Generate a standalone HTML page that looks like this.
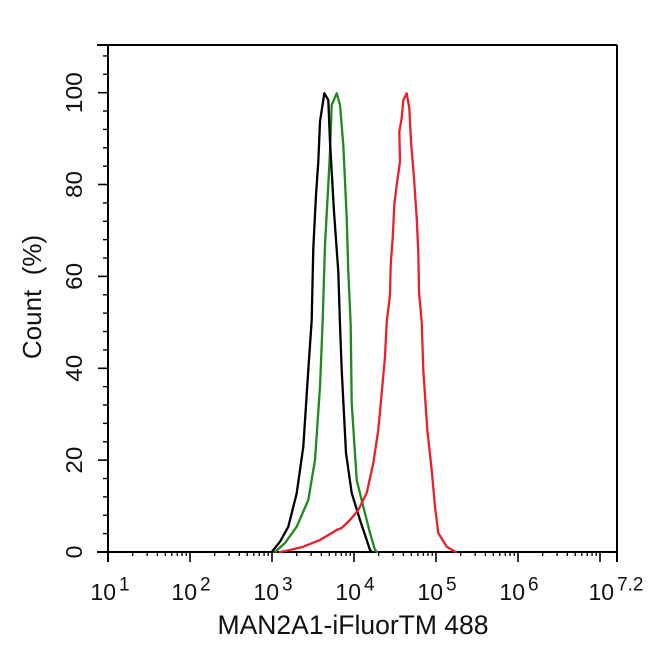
<!DOCTYPE html>
<html><head><meta charset="utf-8"><style>
html,body{margin:0;padding:0;background:#fff;}
svg{display:block;}
text{font-family:"Liberation Sans",Arial,sans-serif;fill:#111;}
</style></head><body>
<svg width="650" height="658" viewBox="0 0 650 658" xmlns="http://www.w3.org/2000/svg">
<rect width="650" height="658" fill="#fff"/>
<!-- frame -->
<g stroke="#000" stroke-width="2" fill="none">
<line x1="97" y1="45" x2="617" y2="45"/>
<line x1="97" y1="552" x2="617" y2="552"/>
<line x1="108" y1="45" x2="108" y2="562"/>
<line x1="617" y1="45" x2="617" y2="562"/>
</g>
<!-- y ticks -->
<g stroke="#000" stroke-width="1.6">
<line x1="98" y1="552" x2="108" y2="552"/>
<line x1="98" y1="460.1" x2="108" y2="460.1"/>
<line x1="98" y1="368.3" x2="108" y2="368.3"/>
<line x1="98" y1="276.4" x2="108" y2="276.4"/>
<line x1="98" y1="184.5" x2="108" y2="184.5"/>
<line x1="98" y1="92.7" x2="108" y2="92.7"/>
</g>
<g stroke="#000" stroke-width="1.4" id="ymin"></g>
<g stroke="#000" stroke-width="1.6" id="xt"></g>
<!-- y labels -->
<g font-size="23" text-anchor="middle">
<text transform="translate(82,552) rotate(-90)">0</text>
<text transform="translate(82,460.1) rotate(-90)" textLength="27" lengthAdjust="spacingAndGlyphs">20</text>
<text transform="translate(82,368.3) rotate(-90)" textLength="27" lengthAdjust="spacingAndGlyphs">40</text>
<text transform="translate(82,276.4) rotate(-90)" textLength="27" lengthAdjust="spacingAndGlyphs">60</text>
<text transform="translate(82,184.5) rotate(-90)" textLength="27" lengthAdjust="spacingAndGlyphs">80</text>
<text transform="translate(82,92.7) rotate(-90)" textLength="41" lengthAdjust="spacingAndGlyphs">100</text>
</g>
<text transform="translate(41,297) rotate(-90)" font-size="26" text-anchor="middle" xml:space="preserve">Count  (%)</text>
<!-- x labels -->
<g font-size="23" text-anchor="middle">
<text x="110" y="600">10<tspan font-size="19" dx="3" dy="-9.5">1</tspan></text>
<text x="191" y="600">10<tspan font-size="19" dx="3" dy="-9.5">2</tspan></text>
<text x="273" y="600">10<tspan font-size="19" dx="3" dy="-9.5">3</tspan></text>
<text x="355" y="600">10<tspan font-size="19" dx="3" dy="-9.5">4</tspan></text>
<text x="437" y="600">10<tspan font-size="19" dx="3" dy="-9.5">5</tspan></text>
<text x="519" y="600">10<tspan font-size="19" dx="3" dy="-9.5">6</tspan></text>
<text x="616" y="600">10<tspan font-size="19" dx="3" dy="-9.5">7.2</tspan></text>
</g>
<text x="353" y="634" font-size="26.5" text-anchor="middle">MAN2A1-iFluorTM 488</text>
<!-- curves -->
<g fill="none" stroke-width="2.3" stroke-linejoin="round" stroke-linecap="round">
<polyline stroke="#1e8a1e" points="275,552 285,543 296.7,526.7 308.3,500 315,460 320,386.7 322.7,320 325,245 328.3,185 330,151.7 331.7,105 336.7,93.3 340,105 343.3,145 346.7,218 348.3,271.7 350.7,325 351.7,403 356.7,480 363.3,506.7 370,533 375,550 377,552"/>
<polyline stroke="#000" points="271.7,552 280,541.7 288.3,526.7 296.7,493.3 303.3,446.7 308.3,370 311.7,320 313.3,248.3 316,195 318.3,161.7 320,121.7 324.3,93.3 328.3,100 330,141.7 334,211.7 338.3,271.7 340,325 341.7,370 346,453 351.7,493 360,520 366.7,540 370,550 372,552"/>
<polyline stroke="#e8202a" points="280,552 286.7,550.7 303.3,546.7 320,540 336.7,530 341.7,528 350,520 358.3,510 366.7,493 373.3,463 378.3,430 381.7,393 385,356.7 386.7,322 390,295 390.7,265 392.7,238 394.3,205 396.7,185 400,161.7 399.3,131.7 401.7,118 403.3,100 406.7,93.3 409.3,108 411,141.7 414,178 416.7,218 418.3,251.7 419,291.7 421.7,322 423.3,370 427.3,430 431.7,470 435,506.7 438.3,533 446.7,546.7 453.3,550.7 456,552"/>
</g>
<script>
(function(){
var ns="http://www.w3.org/2000/svg";
var ym=document.getElementById("ymin");
for(var v=4;v<=108;v+=4){ if(v%20===0) continue;
 var y=552-v*4.5933; var l=document.createElementNS(ns,"line");
 l.setAttribute("x1",103);l.setAttribute("x2",108);l.setAttribute("y1",y);l.setAttribute("y2",y);ym.appendChild(l);}
var xt=document.getElementById("xt");
for(var d=1;d<=7;d++){
 var x=108+(d-1)*82; var l=document.createElementNS(ns,"line");
 l.setAttribute("x1",x);l.setAttribute("x2",x);l.setAttribute("y1",552);l.setAttribute("y2",562);xt.appendChild(l);
 for(var m=2;m<=9;m++){ var xx=x+Math.log10(m)*82; if(xx>=616) break;
  var t=document.createElementNS(ns,"line");
  t.setAttribute("x1",xx);t.setAttribute("x2",xx);t.setAttribute("y1",552);t.setAttribute("y2",556);t.setAttribute("stroke-width","1.3");xt.appendChild(t);}
}
var l2=document.createElementNS(ns,"line");
l2.setAttribute("x1",617);l2.setAttribute("x2",617);l2.setAttribute("y1",552);l2.setAttribute("y2",562);xt.appendChild(l2);
})();
</script>
</svg>
</body></html>
